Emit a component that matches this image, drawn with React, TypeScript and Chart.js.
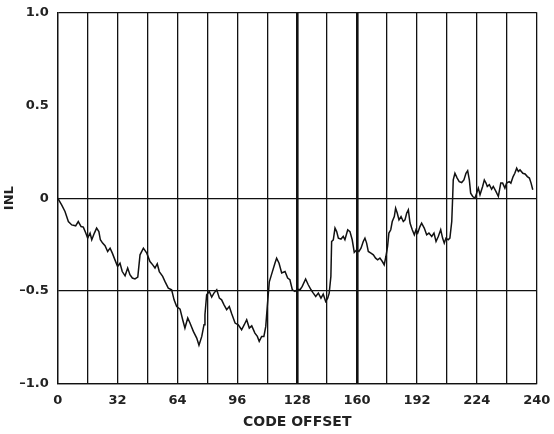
import React, { useEffect, useRef } from "react";
import { Chart, registerables } from "chart.js";

Chart.register(...registerables);

const codes: number[] = [
  0, 2.1, 3.9, 5.7, 7.5, 9.6, 11, 12.5, 13.7, 15, 16, 17.3, 18.2, 19.6, 20.8, 22, 22.8, 24, 25.3, 26.7,
  28, 29.2, 30.6, 32, 33.3, 34.5, 36, 37.4, 38.6, 39.9, 41.3, 42.8, 44, 45.8, 47.6, 49.3, 50.8, 52, 53.2, 54.3,
  56.1, 57.3, 59.1, 60.9, 62.2, 63.6, 65.4, 66.8, 68, 69.5, 70.7, 72.5, 74.3, 75.5, 77, 78.2, 78.7, 79.6, 81, 82.3,
  83.5, 85, 86.4, 87.6, 88.9, 90.3, 91.7, 93, 94.8, 96.5, 98.3, 99.7, 101, 102.4, 103.7, 105.4, 106.7, 107.7, 109, 110.2,
  111.2, 112, 113.1, 114.3, 116.1, 117, 118.3, 119.7, 121.5, 122.9, 124.1, 125.4, 126.8, 128.3, 129.5, 130.7, 132.5, 133.9, 135.4, 136.6,
  137.9, 139.3, 140.7, 141.9, 143.2, 144.3, 145.1, 146, 146.4, 147.3, 148.2, 149.1, 150, 151.4, 152.6, 153.5, 155, 156.2, 157.4, 158.5,
  159.8, 161, 162.1, 163.3, 164.2, 165.1, 166, 167.4, 168.7, 169.9, 171, 172.2, 173.5, 174.5, 175.4, 176.3, 177, 178, 178.8, 179.9,
  180.6, 181.5, 182.4, 183.5, 184.7, 185.6, 186.5, 187.4, 188.3, 189.5, 190.6, 191.5, 192.4, 193.6, 194.5, 195.9, 197.2, 198.4, 199.9, 201.1,
  202.2, 203.4, 204.7, 205.7, 206.6, 207.5, 208.7, 209.6, 210.6, 211.1, 211.4, 212.3, 213.5, 214.6, 215.9, 217.1, 218.2, 219.1, 220, 220.7,
  221.8, 223, 223.9, 224.8, 225.7, 227.1, 228, 228.9, 229.6, 230.7, 231.9, 232.8, 234.2, 235.5, 236.8, 237.8, 239, 239.9, 241.3, 242.2,
  243.4, 244.3, 245.3, 246.2, 247.1, 248.6, 249.8, 251, 252.1, 253, 253.9,
];

const inl: number[] = [
  0, -0.036, -0.072, -0.126, -0.144, -0.149, -0.126, -0.153, -0.156, -0.188, -0.215, -0.188, -0.224, -0.188, -0.161, -0.18, -0.224, -0.242, -0.256, -0.287,
  -0.269, -0.296, -0.332, -0.368, -0.35, -0.395, -0.418, -0.376, -0.412, -0.43, -0.435, -0.425, -0.305, -0.269, -0.296, -0.341, -0.359, -0.376, -0.353, -0.395,
  -0.421, -0.448, -0.484, -0.493, -0.547, -0.583, -0.597, -0.654, -0.699, -0.645, -0.672, -0.717, -0.753, -0.792, -0.744, -0.681, -0.627, -0.52, -0.502, -0.532,
  -0.511, -0.493, -0.538, -0.547, -0.574, -0.6, -0.583, -0.622, -0.672, -0.681, -0.708, -0.681, -0.654, -0.699, -0.687, -0.726, -0.744, -0.771, -0.744, -0.744,
  -0.69, -0.583, -0.45, -0.41, -0.35, -0.323, -0.35, -0.403, -0.395, -0.43, -0.439, -0.493, -0.502, -0.49, -0.493, -0.475, -0.435, -0.466, -0.493, -0.511,
  -0.529, -0.511, -0.538, -0.516, -0.556, -0.538, -0.511, -0.421, -0.233, -0.224, -0.161, -0.18, -0.215, -0.22, -0.206, -0.224, -0.17, -0.18, -0.224, -0.292,
  -0.278, -0.287, -0.269, -0.233, -0.215, -0.242, -0.287, -0.296, -0.305, -0.323, -0.332, -0.323, -0.341, -0.359, -0.314, -0.26, -0.188, -0.17, -0.126, -0.099,
  -0.054, -0.081, -0.117, -0.099, -0.126, -0.117, -0.081, -0.063, -0.134, -0.17, -0.197, -0.17, -0.188, -0.153, -0.134, -0.161, -0.197, -0.188, -0.206, -0.188,
  -0.233, -0.206, -0.17, -0.215, -0.242, -0.215, -0.224, -0.215, -0.126, 0.009, 0.098, 0.134, 0.108, 0.089, 0.084, 0.098, 0.134, 0.148, 0.098, 0.027,
  0.009, 0, 0.027, 0.054, 0.018, 0.063, 0.098, 0.081, 0.063, 0.072, 0.048, 0.063, 0.036, 0.009, 0.081, 0.081, 0.054, 0.081, 0.089, 0.081,
  0.116, 0.134, 0.161, 0.143, 0.152, 0.134, 0.13, 0.116, 0.108, 0.081, 0.045,
];

const xTickLabels: Record<number, string> = {
  0: "0", 32: "32", 64: "64", 96: "96", 128: "128", 160: "160", 192: "192", 224: "224", 256: "240",
};
const yTickLabels: Record<string, string> = {
  "1": "1.0", "0.5": "0.5", "0": "0", "-0.5": "\u20130.5", "-1": "\u20131.0",
};
const thickCodes: number[] = [128, 160];

const W = 554;
const H = 434;

export default function App() {
  const ref = useRef<HTMLCanvasElement | null>(null);
  useEffect(() => {
    if (!ref.current) return;
    const tickFont = { family: "'DejaVu Sans', sans-serif", size: 13, weight: "bold" as const };
    const chart = new Chart(ref.current, {
      type: "line",
      data: {
        datasets: [
          {
            data: codes.map((c, i) => ({ x: c, y: inl[i] })),
            borderColor: "#111",
            borderWidth: 1.5,
            pointRadius: 0,
            tension: 0,
            fill: false,
          },
        ],
      },
      options: {
        responsive: false,
        animation: false,
        layout: { padding: { left: 0, top: 12.3, right: 17.3, bottom: 0 } },
        plugins: { legend: { display: false }, tooltip: { enabled: false } },
        scales: {
          x: {
            type: "linear",
            min: 0,
            max: 256,
            afterFit: (s: any) => {
              s.height = H - 384;
              s.paddingLeft = 0;
              s.paddingRight = 0;
            },
            border: { display: true, color: "#111", width: 1.3 },
            grid: {
              color: "#111",
              lineWidth: (ctx: any) => (thickCodes.includes(ctx.tick?.value) ? 2.6 : 1.3),
              drawTicks: false,
            },
            ticks: {
              stepSize: 16,
              autoSkip: false,
              maxRotation: 0,
              padding: 9,
              color: "#222",
              font: tickFont,
              callback: (v: any) => xTickLabels[Number(v)] ?? "",
            },
            title: {
              display: true,
              text: "CODE OFFSET",
              color: "#222",
              font: { family: "'DejaVu Sans', sans-serif", size: 14, weight: "bold" },
              padding: { top: 0, bottom: 3 },
            },
          },
          y: {
            type: "linear",
            min: -1,
            max: 1,
            afterFit: (s: any) => {
              s.width = 57.7;
              s.paddingTop = 0;
              s.paddingBottom = 0;
            },
            border: { display: true, color: "#111", width: 1.3 },
            grid: {
              color: (ctx: any) => (ctx.tick?.value === 0.5 ? "rgba(0,0,0,0)" : "#111"),
              lineWidth: 1.3,
              drawTicks: false,
            },
            ticks: {
              stepSize: 0.5,
              padding: 9,
              color: "#222",
              font: tickFont,
              callback: (v: any) => yTickLabels[String(Number(v))] ?? "",
            },
            title: {
              display: true,
              text: "INL",
              color: "#222",
              font: { family: "'DejaVu Sans', sans-serif", size: 13, weight: "bold" },
              padding: { top: 2, bottom: 0 },
            },
          },
        },
      },
    });
    return () => chart.destroy();
  }, []);
  return (
    <div style={{ position: "absolute", left: 0, top: 0, width: W, height: H, background: "#fff" }}>
      <canvas ref={ref} width={W} height={H} />
    </div>
  );
}
